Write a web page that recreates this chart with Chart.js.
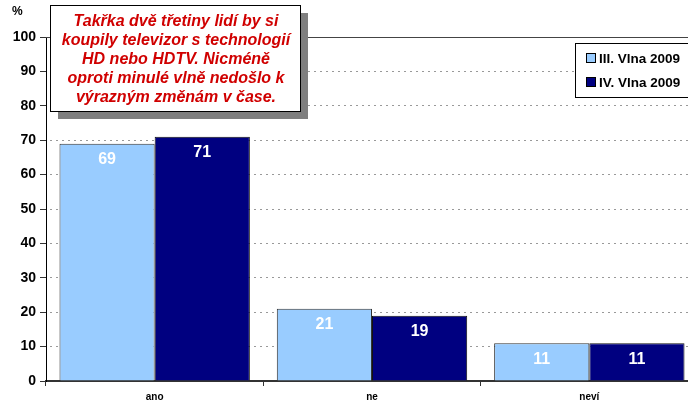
<!DOCTYPE html>
<html>
<head>
<meta charset="utf-8">
<script src="https://cdn.jsdelivr.net/npm/chart.js@4"></script>
<style>
  html, body { margin: 0; padding: 0; background: #fff; overflow: hidden; }
  #wrap { position: relative; width: 698px; height: 403px; }
</style>
</head>
<body>
<div id="wrap"><canvas id="chart"></canvas></div>
<script>
// kategorie a hodnoty obou vln
const categories = ['ano', 'ne', 'neví'];
const seriesNames = ['III. Vlna 2009', 'IV. Vlna 2009'];
const vlna3 = [69, 21, 11];
const vlna4 = [71, 19, 11];
const yTicks = [0, 10, 20, 30, 40, 50, 60, 70, 80, 90, 100];

const noteLines = [
  'Takřka dvě třetiny lidí by si',
  'koupily televizor s technologií',
  'HD nebo HDTV. Nicméně',
  'oproti minulé vlně nedošlo k',
  'výrazným změnám v čase.'
];

const FONT = '"Liberation Sans", Arial, sans-serif';

// hodnoty v bílém uvnitř sloupců
const valueLabels = {
  id: 'valueLabels',
  afterDatasetsDraw(chart) {
    const ctx = chart.ctx;
    ctx.save();
    ctx.fillStyle = '#fff';
    ctx.font = 'bold 16px ' + FONT;
    ctx.textAlign = 'center';
    ctx.textBaseline = 'middle';
    chart.data.datasets.forEach((ds, i) => {
      chart.getDatasetMeta(i).data.forEach((bar, j) => {
        ctx.fillText(ds.data[j], bar.x, bar.y + 16);
      });
    });
    ctx.restore();
  }
};

// horní plná čára, znak %, rámeček s komentářem a legenda
const extras = {
  id: 'extras',
  beforeDatasetsDraw(chart) {
    const { ctx, chartArea, scales } = chart;
    const y100 = scales.y.getPixelForValue(100);
    ctx.save();
    ctx.strokeStyle = '#444';
    ctx.lineWidth = 1;
    ctx.beginPath();
    ctx.moveTo(chartArea.left, y100 + 0.5);
    ctx.lineTo(chartArea.right, y100 + 0.5);
    ctx.stroke();
    ctx.restore();
  },
  afterDraw(chart) {
    const ctx = chart.ctx;
    ctx.save();

    ctx.fillStyle = '#000';
    ctx.font = 'bold 12px ' + FONT;
    ctx.textAlign = 'left';
    ctx.textBaseline = 'middle';
    ctx.fillText('%', 12, 12);

    // komentář
    const bx = 50, by = 5, bw = 250, bh = 106;
    ctx.fillStyle = '#7f7f7f';
    ctx.fillRect(bx + 8, by + 8, bw, bh);
    ctx.fillStyle = '#fff';
    ctx.fillRect(bx, by, bw, bh);
    ctx.strokeStyle = '#000';
    ctx.lineWidth = 1;
    ctx.strokeRect(bx + 0.5, by + 0.5, bw, bh);
    ctx.fillStyle = '#d00000';
    ctx.font = 'italic bold 16px ' + FONT;
    ctx.textAlign = 'center';
    noteLines.forEach((t, i) => ctx.fillText(t, bx + bw / 2 + 1, 22 + i * 19));

    // legenda
    const lx = 575, ly = 43;
    ctx.fillStyle = '#fff';
    ctx.fillRect(lx, ly, 120, 54);
    ctx.strokeStyle = '#000';
    ctx.strokeRect(lx + 0.5, ly + 0.5, 120, 54);
    ctx.font = 'bold 13.5px ' + FONT;
    ctx.textAlign = 'left';
    chart.data.datasets.forEach((ds, i) => {
      const cy = 58 + i * 24;
      ctx.fillStyle = ds.backgroundColor;
      ctx.fillRect(586, cy - 4.5, 9, 9);
      ctx.strokeStyle = '#000';
      ctx.strokeRect(586.5, cy - 4.5, 9, 9);
      ctx.fillStyle = '#000';
      ctx.fillText(ds.label, 599, cy + 1);
    });
    ctx.restore();
  }
};

new Chart(document.getElementById('chart'), {
  type: 'bar',
  data: {
    labels: categories,
    datasets: [
      { label: seriesNames[0], data: vlna3, backgroundColor: '#99ccff', borderColor: '#333', borderWidth: 1 },
      { label: seriesNames[1], data: vlna4, backgroundColor: '#000080', borderColor: '#111', borderWidth: 1 }
    ]
  },
  options: {
    responsive: true,
    maintainAspectRatio: false,
    animation: false,
    layout: { padding: { top: 37, left: 0, right: 0, bottom: 0 } },
    plugins: {
      legend: { display: false },
      tooltip: { enabled: false }
    },
    datasets: {
      bar: { barPercentage: 1, categoryPercentage: 0.876 }
    },
    scales: {
      x: {
        afterFit(scale) { scale.height = 22; },
        grid: {
          offset: true,
          drawOnChartArea: false,
          tickLength: 5,
          tickColor: '#333'
        },
        border: { color: '#333', width: 2 },
        ticks: {
          color: '#000',
          font: { family: FONT, size: 10, weight: 'bold' },
          padding: 5
        }
      },
      y: {
        min: 0,
        max: 100,
        afterFit(scale) { scale.width = 46; },
        afterBuildTicks(scale) { scale.ticks = yTicks.map(v => ({ value: v })); },
        grid: {
          color: '#999',
          tickColor: '#333',
          tickLength: 6,
          tickBorderDash: []
        },
        border: { color: '#000', width: 1, dash: [2, 4], dashOffset: -3 },
        ticks: {
          color: '#000',
          font: { family: FONT, size: 14, weight: 'bold' },
          padding: 4
        }
      }
    }
  },
  plugins: [valueLabels, extras]
});
</script>
</body>
</html>
